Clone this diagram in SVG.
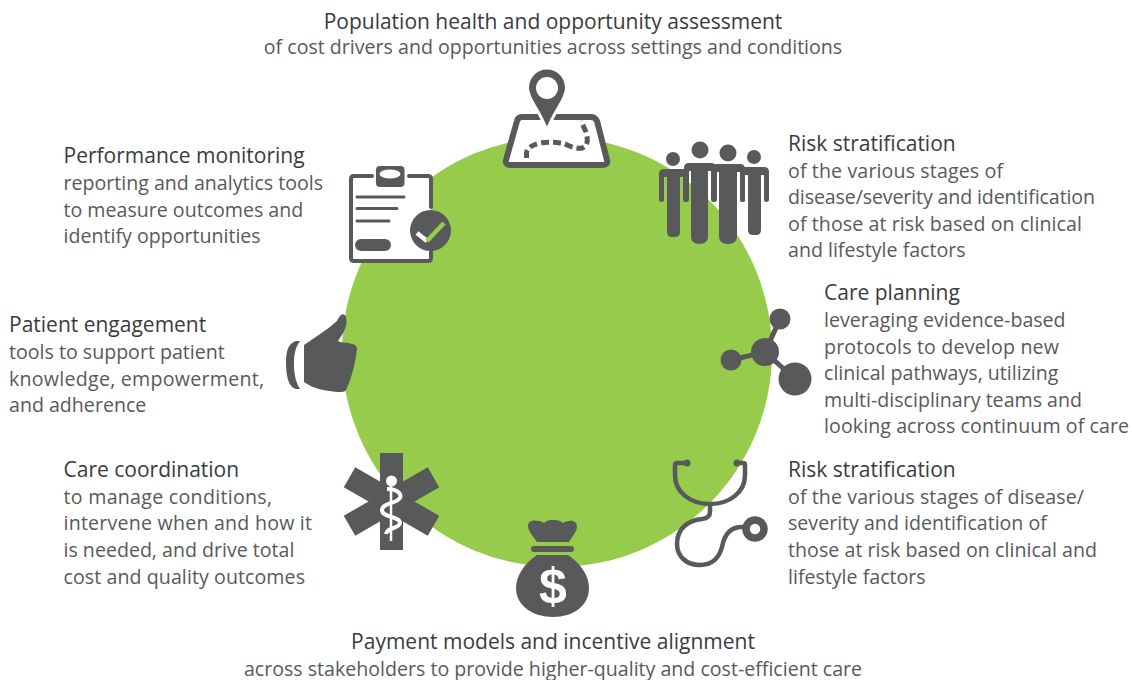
<svg xmlns="http://www.w3.org/2000/svg" width="1132" height="680" viewBox="0 0 1132 680">
<style>
text{font-family:"Open Sans","Noto Sans","Liberation Sans",sans-serif;font-size:19.6px;fill:#58595b;transform:translateY(.6px)}
text.t{fill:#3a3b3d;font-weight:500;font-size:21px}
.m{text-anchor:middle}
.i{fill:#58595b}
.s{fill:none;stroke:#58595b;stroke-linecap:round;stroke-linejoin:round}
.w{fill:#fff}
</style>
<rect width="1132" height="680" fill="#fff"/>
<circle id="ring" cx="557" cy="352" r="215" fill="#97cb4b"/>
<g id="connectors"/>
<g id="population-health">
<path d="M522 117H591Q595 117 597 121L607 160Q608 165 603 165H510Q505 165 506 160L517 121Q518 117 522 117Z" class="w" stroke="#58595b" stroke-width="6" stroke-linejoin="round"/>
<path d="M526.500 158V153Q527 146 540 143Q552 141 565 144Q575 149 582 148Q590 146 586 132L581 121" fill="none" stroke="#58595b" stroke-width="5" stroke-dasharray="8 4"/>
<path d="M547 68C535 68 527.500 78 527.500 88C527.500 100 540 110 547 131C554 110 566.500 100 566.500 88C566.500 78 559 68 547 68Z" class="i" stroke="#fff" stroke-width="3"/>
<circle cx="547" cy="88" r="11" class="w"/>
<text class="t m" x="553" y="28">Population health and opportunity assessment</text>
<text class="m" x="553" y="53.500">of cost drivers and opportunities across settings and conditions</text>
</g>
<g id="risk-stratification-1">
<circle cx="673" cy="159" r="7" class="i"/><circle cx="700" cy="150" r="8.500" class="i"/><circle cx="728" cy="153" r="8.500" class="i"/><circle cx="754" cy="157" r="7" class="i"/>
<path d="M664 169H683Q688 169 688 174V200Q688 202 685.500 202Q683 202 683 200V177H680V232Q680 237 675 237H672Q667 237 667 232V177H664V200Q664 202 661.500 202Q659 202 659 200V174Q659 169 664 169Z" class="i"/>
<path d="M745 167H764Q769 167 769 172V200Q769 202 766.500 202Q764 202 764 200V175H761V230Q761 235 756 235H753Q748 235 748 230V175H745V200Q745 202 742.500 202Q740 202 740 200V172Q740 167 745 167Z" class="i"/>
<path d="M717 164H740Q745 164 745 169V200Q745 202 742.500 202Q740 202 740 200V172H737V236Q737 244 728 244Q719 244 719 236V172H717V200Q717 202 714.500 202Q712 202 712 200V169Q712 164 717 164Z" class="i"/>
<path d="M689 163H711Q716 163 716 168V200Q716 202 713.500 202Q711 202 711 200V171H708V236Q708 244 699.500 244Q691 244 691 236V171H689V200Q689 202 686.500 202Q684 202 684 200V168Q684 163 689 163Z" class="i"/>
<text class="t" x="788" y="150">Risk stratification</text>
<text x="788" y="177" textLength="215">of the various stages of</text>
<text x="788" y="203.500" textLength="307">disease/severity and identification</text>
<text x="788" y="230" textLength="294">of those at risk based on clinical</text>
<text x="788" y="256.500">and lifestyle factors</text>
</g>
<g id="care-planning">
<path d="M780 319L765 352L731 360M765 352L795 379" class="s" stroke-width="5"/>
<circle cx="780" cy="319" r="10.500" class="i"/><circle cx="765" cy="352" r="14" class="i"/><circle cx="731" cy="360" r="10.500" class="i"/><circle cx="795" cy="379" r="16.500" class="i"/>
<text class="t" x="824" y="299.500">Care planning</text>
<text x="824" y="326">leveraging evidence-based</text>
<text x="824" y="353" textLength="235">protocols to develop new</text>
<text x="824" y="379.500">clinical pathways, utilizing</text>
<text x="824" y="406">multi-disciplinary teams and</text>
<text x="824" y="432.500" textLength="305">looking across continuum of care</text>
</g>
<g id="risk-stratification-2">
<path d="M687 463H677Q675 463 675 465V475C675 492 690 504 710 504C730 504 745 492 745 475V465Q745 463 743 463H737" class="s" stroke-width="4.500"/>
<path d="M710 505V512Q710 518 702 519C690 520 677 527 677 544C677 556 686 565 700 565C713 565 719 558 722 547C724 536 729 527 742 527H750" class="s" stroke-width="4.500"/>
<circle cx="687" cy="463" r="3.500" class="i"/><circle cx="737" cy="463" r="3.500" class="i"/>
<circle cx="755" cy="529" r="9" fill="#fff" stroke="#58595b" stroke-width="7.500"/>
<text class="t" x="788" y="476">Risk stratification</text>
<text x="788" y="503" textLength="296">of the various stages of disease/</text>
<text x="788" y="529.500">severity and identification of</text>
<text x="788" y="556" textLength="309">those at risk based on clinical and</text>
<text x="788" y="583">lifestyle factors</text>
</g>
<g id="payment-models">
<path d="M537 542C532 535 528 530 528 526C528 520 536 519 544 523C547 520 550 520 553 520C556 520 560 520 563 523C570 519 577 520 577 527C577 531 572 537 569 542Z" class="i"/>
<rect x="531" y="546" width="43" height="6" rx="3" class="i"/>
<path d="M537 555H568C580 563 589 575 589 588C589 606 573 617 553 617C533 617 516 606 516 588C516 575 525 563 537 555Z" class="i"/>
<text x="553" y="602" text-anchor="middle" style="font-family:'Liberation Sans',sans-serif;font-size:50px;font-weight:700;fill:#fff">$</text>
<text class="t m" x="553" y="648">Payment models and incentive alignment</text>
<text class="m" x="553" y="675">across stakeholders to provide higher-quality and cost-efficient care</text>
</g>
<g id="care-coordination">
<g class="i"><rect x="380" y="453" width="23" height="97"/><rect x="380" y="453" width="23" height="97" transform="rotate(60 391.500 501.500)"/><rect x="380" y="453" width="23" height="97" transform="rotate(-60 391.500 501.500)"/></g>
<circle cx="391.500" cy="481" r="5.500" class="w"/>
<path d="M391 484V541" stroke="#fff" stroke-width="2.500"/>
<path d="M387 489C396 489 402 493 400 498C396 504 382 503 382 510C382 518 400 516 400 523C399 529 387 527 386 534" fill="none" stroke="#fff" stroke-width="4"/>
<text class="t" x="63.500" y="476">Care coordination</text>
<text x="63.500" y="503" textLength="208.500">to manage conditions,</text>
<text x="63.500" y="529.500" textLength="248.500">intervene when and how it</text>
<text x="63.500" y="556">is needed, and drive total</text>
<text x="63.500" y="583" textLength="241.500">cost and quality outcomes</text>
</g>
<g id="patient-engagement">
<path d="M300 341H296C289 343 286 350 286 362C286 378 289 387 296 389H300C295 381 294 372 294 364C294 355 295 348 300 341Z" class="i"/>
<path d="M304 345C315 337 327 330 337 321C341 313 344 313 346 317C348 326 344 332 338 341L340 342C349 343 357 344 357 348C356 360 352 378 346 390C345 392 342 392 338 392C324 391 312 388 304 382Z" class="i"/>
<text class="t" x="9" y="331">Patient engagement</text>
<text x="9" y="358.500">tools to support patient</text>
<text x="9" y="385" textLength="255">knowledge, empowerment,</text>
<text x="9" y="411.500">and adherence</text>
</g>
<g id="performance-monitoring">
<rect x="351" y="176" width="80" height="85" rx="3" class="w"/>
<path d="M372 176H354Q351 176 351 179V258Q351 261 354 261H428Q431 261 431 258V252M431 207V179Q431 176 428 176H409" class="s" stroke-width="4" stroke-linecap="butt"/>
<rect x="376" y="166" width="28.500" height="21" rx="4" class="i"/>
<ellipse cx="390" cy="174" rx="10.500" ry="4.500" class="w"/>
<path d="M357 197H404M357 208.500H397M357 221H389" class="s" stroke-width="3"/>
<rect x="355" y="239" width="36" height="12" rx="6" class="i"/>
<circle cx="430.500" cy="230.500" r="20.500" class="i"/>
<path d="M417 233L427 241" fill="none" stroke="#fff" stroke-width="4.500"/>
<path d="M427 241L444 223" fill="none" stroke="#97cb4b" stroke-width="4.500"/>
<text class="t" x="63.500" y="162">Performance monitoring</text>
<text x="63.500" y="189.500">reporting and analytics tools</text>
<text x="63.500" y="216">to measure outcomes and</text>
<text x="63.500" y="242.500">identify opportunities</text>
</g>
</svg>
